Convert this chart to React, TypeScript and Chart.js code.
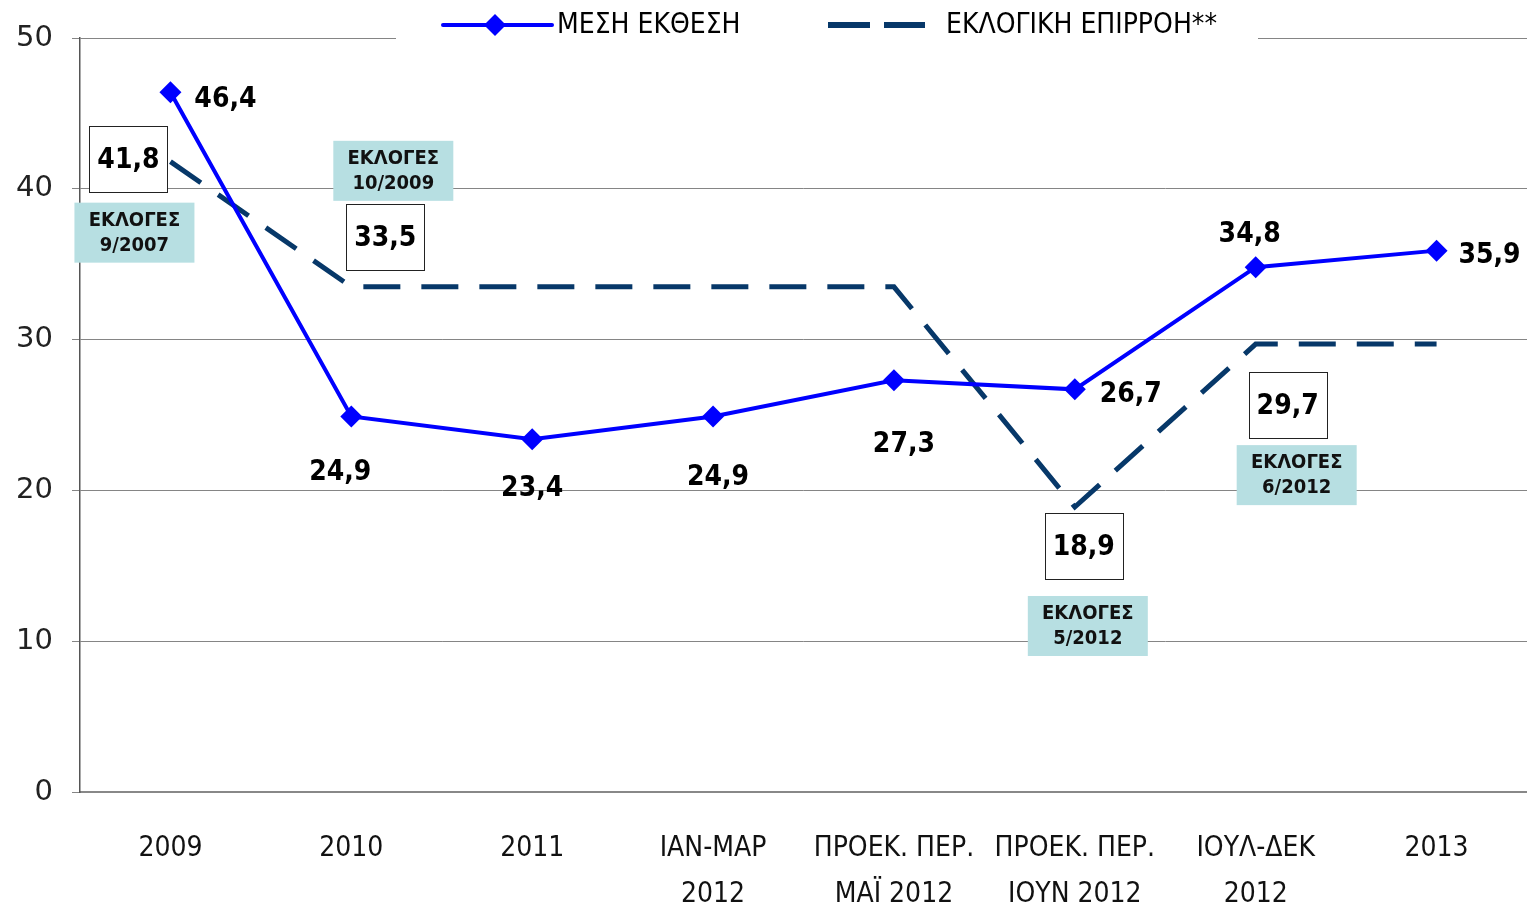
import React, { useEffect, useRef } from "react";
import { Chart, registerables } from "chart.js";

Chart.register(...registerables);

const categories: string[][] = [
  ["2009"],
  ["2010"],
  ["2011"],
  ["ΙΑΝ-ΜΑΡ", "2012"],
  ["ΠΡΟΕΚ. ΠΕΡ.", "ΜΑΪ 2012"],
  ["ΠΡΟΕΚ. ΠΕΡ.", "ΙΟΥΝ 2012"],
  ["ΙΟΥΛ-ΔΕΚ", "2012"],
  ["2013"],
];
const meanExposure = [46.4, 24.9, 23.4, 24.9, 27.3, 26.7, 34.8, 35.9];
const electoralInfluence = [41.8, 33.5, 33.5, 33.5, 33.5, 18.9, 29.7, 29.7];
const seriesNames = ["ΜΕΣΗ ΕΚΘΕΣΗ", "ΕΚΛΟΓΙΚΗ ΕΠΙΡΡΟΗ**"];
const yMin = 0;
const yMax = 50;
const yStep = 10;
// indices of the dashed series that carry a boxed label and an election note
const boxedIndices = [0, 1, 5, 6];
const electionNotes = ["9/2007", "10/2009", "5/2012", "6/2012"];
const electionWord = "ΕΚΛΟΓΕΣ";

const BLUE = "#0000ff";
const NAVY = "#073869";
const TEAL = "#b7dfe2";
const COND = '"DejaVu Sans Condensed", "DejaVu Sans", sans-serif';
const SANS = '"DejaVu Sans", sans-serif';

// label offsets (pixels) relative to each point
const blueLabelOffsets = [
  [55, 7], [-11, 56], [0, 50], [5, 61], [10, 64], [56, 5], [-6, -32], [53, 5],
];
const boxOffsets = [[-42, -3], [34, -50], [9, 39], [32, 61]];
const tealOffsets = [[-36, 71], [42, -116], [13, 119], [41, 131]];

const fmt = (v: number) => v.toFixed(1).replace(".", ",");

const annotationPlugin = {
  id: "annotations",
  afterDatasetsDraw(chart: any) {
    const ctx: CanvasRenderingContext2D = chart.ctx;
    const blueMeta = chart.getDatasetMeta(0);
    const navyMeta = chart.getDatasetMeta(1);
    ctx.save();
    ctx.textAlign = "center";
    ctx.textBaseline = "middle";
    // blue labels
    ctx.fillStyle = "#000";
    ctx.font = `bold 28px ${COND}`;
    blueMeta.data.forEach((p: any, i: number) => {
      const [dx, dy] = blueLabelOffsets[i];
      ctx.fillText(fmt(meanExposure[i]), p.x + dx, p.y + dy);
    });
    // boxed labels + teal election notes
    boxedIndices.forEach((idx, k) => {
      const p = navyMeta.data[idx];
      const [bx, by] = boxOffsets[k];
      const cx = p.x + bx;
      const cy = p.y + by;
      const w = 78, h = 66;
      ctx.fillStyle = "#fff";
      ctx.fillRect(cx - w / 2, cy - h / 2, w, h);
      ctx.strokeStyle = "#222";
      ctx.lineWidth = 1;
      ctx.strokeRect(Math.round(cx - w / 2) + 0.5, Math.round(cy - h / 2) + 0.5, w, h);
      ctx.fillStyle = "#000";
      ctx.font = `bold 28px ${COND}`;
      ctx.fillText(fmt(electoralInfluence[idx]), cx, cy + 2);

      const [tx, ty] = tealOffsets[k];
      const qx = p.x + tx;
      const qy = p.y + ty;
      const tw = 120, th = 60;
      ctx.fillStyle = TEAL;
      ctx.fillRect(qx - tw / 2, qy - th / 2, tw, th);
      ctx.fillStyle = "#111";
      ctx.font = `bold 20px ${COND}`;
      ctx.fillText(electionWord, qx, qy - 12);
      ctx.fillText(electionNotes[k], qx, qy + 13);
    });
    ctx.restore();
  },
  afterDraw(chart: any) {
    const ctx: CanvasRenderingContext2D = chart.ctx;
    ctx.save();
    // legend background
    ctx.fillStyle = "#fff";
    ctx.fillRect(396, 0, 862, 48);
    const y = 25;
    // blue line with diamond
    ctx.strokeStyle = BLUE;
    ctx.lineWidth = 4;
    ctx.lineCap = "round";
    ctx.beginPath();
    ctx.moveTo(443, y);
    ctx.lineTo(552, y);
    ctx.stroke();
    ctx.fillStyle = BLUE;
    ctx.beginPath();
    ctx.moveTo(495, y - 11);
    ctx.lineTo(506, y);
    ctx.lineTo(495, y + 11);
    ctx.lineTo(484, y);
    ctx.closePath();
    ctx.fill();
    ctx.fillStyle = "#000";
    ctx.font = `28px ${COND}`;
    ctx.textBaseline = "middle";
    ctx.textAlign = "left";
    ctx.fillText(seriesNames[0], 557, y + 1);
    // dashed
    ctx.strokeStyle = NAVY;
    ctx.lineWidth = 6;
    ctx.lineCap = "butt";
    ctx.beginPath();
    ctx.moveTo(828, y);
    ctx.lineTo(870, y);
    ctx.moveTo(884, y);
    ctx.lineTo(925, y);
    ctx.stroke();
    ctx.fillText(seriesNames[1], 946, y + 1);
    ctx.restore();
  },
};

export default function App() {
  const ref = useRef<HTMLCanvasElement>(null);
  useEffect(() => {
    document.body.style.margin = "0";
    document.body.style.overflow = "hidden";
    const chart = new Chart(ref.current!, {
      type: "line",
      data: {
        labels: categories,
        datasets: [
          {
            label: seriesNames[0],
            data: meanExposure,
            borderColor: BLUE,
            backgroundColor: BLUE,
            borderWidth: 4,
            pointStyle: "rectRot",
            pointRadius: 11,
            pointHoverRadius: 11,
            pointBorderWidth: 0,
            tension: 0,
            order: 1,
          },
          {
            label: seriesNames[1],
            data: electoralInfluence,
            borderColor: NAVY,
            borderWidth: 5,
            borderDash: [37, 21],
            pointRadius: 0,
            tension: 0,
            order: 2,
          },
        ],
      },
      options: {
        responsive: false,
        maintainAspectRatio: false,
        devicePixelRatio: 1,
        animation: false,
        layout: { autoPadding: false, padding: { top: 38, right: 0, left: 0, bottom: 0 } },
        plugins: { legend: { display: false }, tooltip: { enabled: false } },
        scales: {
          x: {
            offset: true,
            grid: { display: false, drawTicks: false },
            border: { display: true, color: "#888", width: 2 },
            ticks: {
              color: "#111",
              font: { family: COND, size: 28, lineHeight: 1.64 },
              padding: 34,
              maxRotation: 0,
              autoSkip: false,
            },
            afterFit: (s: any) => {
              s.height = 115;
              s.paddingLeft = 0;
              s.paddingRight = 0;
            },
          },
          y: {
            min: yMin,
            max: yMax,
            grid: { color: "#858585", lineWidth: 1, tickLength: 8, drawTicks: true },
            border: { display: true, color: "#555", width: 1.5 },
            ticks: {
              stepSize: yStep,
              color: "#222",
              font: { family: SANS, size: 29 },
              padding: 19,
            },
            afterFit: (s: any) => {
              s.width = 80;
            },
          },
        },
      },
      plugins: [annotationPlugin],
    });
    return () => chart.destroy();
  }, []);
  return (
    <div style={{ position: "absolute", left: 0, top: 0, width: 1527, height: 907, overflow: "hidden", background: "#fff" }}>
      <canvas ref={ref} width={1527} height={907} style={{ display: "block", width: 1527, height: 907 }} />
    </div>
  );
}
